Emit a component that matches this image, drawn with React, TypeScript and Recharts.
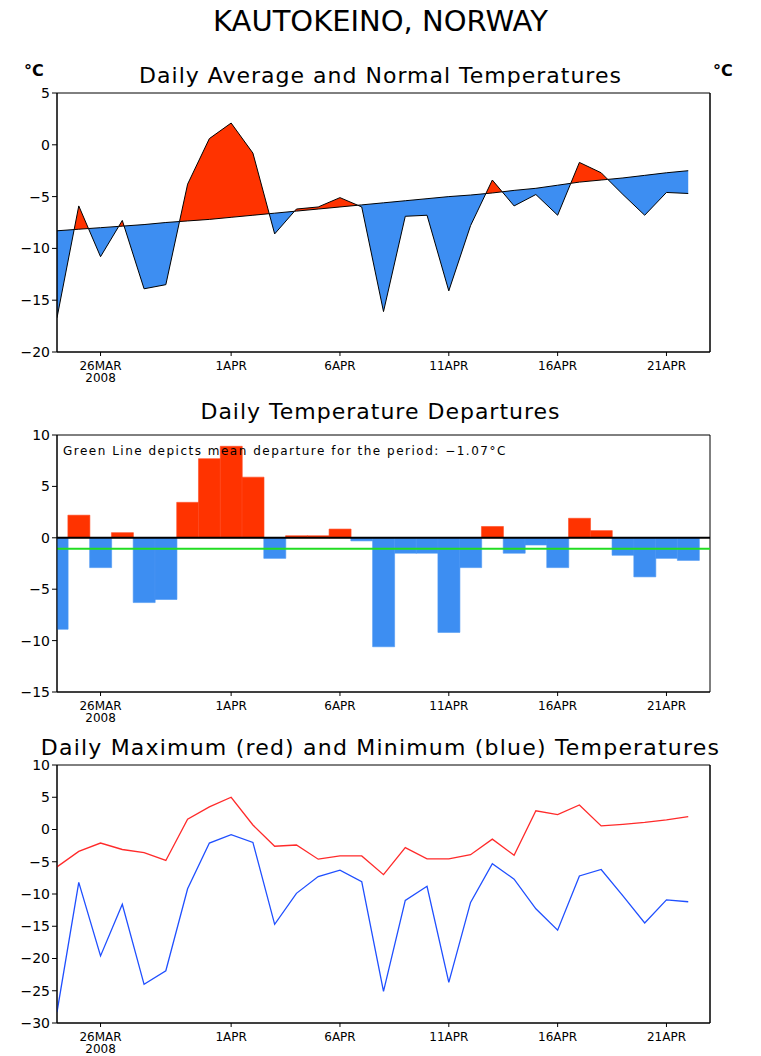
import React from "react";
import { Area, Bar, Cell, ComposedChart, Line, ReferenceArea, ReferenceLine, XAxis, YAxis } from "recharts";

const FONT = "'DejaVu Sans', sans-serif";

// day index 0 = 24MAR 2008
const DAYS = [
  "24MAR", "25MAR", "26MAR", "27MAR", "28MAR", "29MAR", "30MAR", "31MAR",
  "1APR", "2APR", "3APR", "4APR", "5APR", "6APR", "7APR", "8APR", "9APR", "10APR",
  "11APR", "12APR", "13APR", "14APR", "15APR", "16APR", "17APR", "18APR", "19APR",
  "20APR", "21APR", "22APR",
];
const TICK_DAYS = [2, 8, 13, 18, 23, 28];
const TICK_LABELS = ["26MAR", "1APR", "6APR", "11APR", "16APR", "21APR"];
const YEAR = "2008";

const AVG_TEMP = [
  -16.7, -5.9, -10.8, -7.3, -13.9, -13.5, -3.8, 0.6, 2.1, -0.8, -8.6, -6.2, -6.0, -5.1, -6.0,
  -16.1, -6.9, -6.8, -14.1, -7.8, -3.4, -5.9, -4.8, -6.8, -1.7, -2.7, -4.8, -6.8, -4.6, -4.7,
];
const NORMAL_TEMP = [
  -8.3, -8.15, -8.0, -7.85, -7.7, -7.5, -7.35, -7.2, -7.0, -6.8, -6.6, -6.4, -6.2, -6.0, -5.8,
  -5.6, -5.4, -5.2, -5.0, -4.85, -4.65, -4.4, -4.2, -3.9, -3.6, -3.4, -3.2, -2.95, -2.7, -2.5,
];
const DEPARTURE = [
  -8.9, 2.2, -2.9, 0.5, -6.3, -6.0, 3.45, 7.7, 8.9, 5.9, -2.0, 0.2, 0.2, 0.85, -0.3,
  -10.6, -1.5, -1.5, -9.2, -2.9, 1.1, -1.5, -0.7, -2.9, 1.9, 0.7, -1.7, -3.8, -2.0, -2.2,
];
const MEAN_DEPARTURE = -1.07;
const MAX_TEMP = [
  -5.8, -3.4, -2.1, -3.1, -3.6, -4.8, 1.6, 3.5, 5.0, 0.7, -2.6, -2.4, -4.6, -4.1, -4.1,
  -7.0, -2.8, -4.55, -4.55, -3.9, -1.5, -4.0, 2.9, 2.3, 3.8, 0.55, 0.8, 1.1, 1.5, 2.0,
];
const MIN_TEMP = [
  -28.3, -8.2, -19.6, -11.6, -24.0, -21.9, -9.2, -2.1, -0.8, -2.0, -14.7, -9.9, -7.3, -6.3, -8.1,
  -25.1, -11.0, -8.8, -23.7, -11.3, -5.3, -7.7, -12.3, -15.6, -7.2, -6.2, -10.3, -14.5, -10.9, -11.2,
];

const Y_TICKS_AVG = [5, 0, -5, -10, -15, -20];
const Y_TICKS_DEP = [10, 5, 0, -5, -10, -15];
const Y_TICKS_MAXMIN = [10, 5, 0, -5, -10, -15, -20, -25, -30];
const X_DOMAIN = [0, 30];

const RED = "#ff3300";
const BLUE = "#3d8ef2";

// rows for the warm/cold fills; where the average crosses the normal a row is
// added at the crossing so each fill closes exactly on the normal line
function buildAvgRows() {
  const rows: any[] = [];
  for (let i = 0; i < AVG_TEMP.length; i++) {
    const a = AVG_TEMP[i];
    const n = NORMAL_TEMP[i];
    rows.push({ x: i, day: DAYS[i], avg: a, normal: n, warm: [n, Math.max(a, n)], cold: [Math.min(a, n), n] });
    if (i + 1 < AVG_TEMP.length) {
      const d0 = a - n;
      const d1 = AVG_TEMP[i + 1] - NORMAL_TEMP[i + 1];
      if (d0 * d1 < 0) {
        const t = d0 / (d0 - d1);
        const y = n + t * (NORMAL_TEMP[i + 1] - n);
        rows.push({ x: i + t, avg: y, normal: y, warm: [y, y], cold: [y, y] });
      }
    }
  }
  return rows;
}

const avgRows = buildAvgRows();
const depRows = DEPARTURE.map((d, i) => ({ x: i, day: DAYS[i], dep: d }));
const maxMinRows = MAX_TEMP.map((v, i) => ({ x: i, day: DAYS[i], max: v, min: MIN_TEMP[i] }));

const fmt = (v: number) => String(v).replace("-", "\u2212");
const tickStyle = { fontSize: 14, fill: "#000", fontFamily: FONT };
const black = { stroke: "#000" };

function DateTick(props: any) {
  const { x, y, payload } = props;
  const i = TICK_DAYS.indexOf(payload.value);
  return (
    <g>
      <text x={x} y={y + 3} dy="0.71em" textAnchor="middle" fontSize={12} fontFamily={FONT} fill="#000">
        {TICK_LABELS[i]}
      </text>
      {i === 0 && (
        <text x={x} y={y + 15} dy="0.71em" textAnchor="middle" fontSize={12} fontFamily={FONT} fill="#000">
          {YEAR}
        </text>
      )}
    </g>
  );
}

function xAxis() {
  return (
    <XAxis
      dataKey="x"
      type="number"
      domain={X_DOMAIN}
      ticks={TICK_DAYS}
      interval={0}
      allowDataOverflow
      tick={<DateTick />}
      tickSize={4}
      axisLine={black}
      tickLine={black}
      height={30}
    />
  );
}

function yAxes(domain: number[], ticks: number[], rightTicks: boolean) {
  const out = [
    <YAxis
      key="l"
      type="number"
      domain={domain}
      ticks={ticks}
      interval={0}
      allowDataOverflow
      tick={tickStyle}
      tickFormatter={fmt}
      tickSize={5}
      axisLine={black}
      tickLine={black}
      width={49}
    />,
  ];
  if (rightTicks) {
    out.push(
      <YAxis
        key="r"
        yAxisId="right"
        orientation="right"
        type="number"
        domain={domain}
        ticks={ticks}
        interval={0}
        tick={tickStyle}
        tickFormatter={fmt}
        tickSize={5}
        tickLine={black}
        axisLine={black}
        width={43}
      />
    );
  }
  return out;
}

// plot frame drawn on the data domain
function frame(domain: number[]) {
  return (
    <ReferenceArea
      x1={X_DOMAIN[0]}
      x2={X_DOMAIN[1]}
      y1={domain[0]}
      y2={domain[1]}
      fill="none"
      fillOpacity={0}
      stroke="#000"
      strokeWidth={1}
      strokeOpacity={1}
    />
  );
}

const titleStyle: React.CSSProperties = {
  position: "absolute",
  left: 0,
  width: 761,
  textAlign: "center",
  fontFamily: FONT,
  fontSize: 22,
  letterSpacing: 1,
  color: "#000",
  lineHeight: "24px",
};

const unitStyle: React.CSSProperties = {
  position: "absolute",
  fontFamily: FONT,
  fontSize: 16,
  fontWeight: "bold",
  lineHeight: "18px",
};

export default function App() {
  return (
    <div style={{ position: "absolute", top: 0, left: 0, width: 761, height: 1056, overflow: "hidden", background: "#fff" }}>
      <div style={{ ...titleStyle, top: 5, fontSize: 29, letterSpacing: 0, lineHeight: "32px" }}>KAUTOKEINO, NORWAY</div>

      <div style={{ ...titleStyle, top: 64 }}>Daily Average and Normal Temperatures</div>
      <div style={{ ...unitStyle, left: 24, top: 62 }}>°C</div>
      <div style={{ ...unitStyle, left: 713, top: 62 }}>°C</div>
      <div style={{ position: "absolute", top: 60, left: 0 }}>
        <ComposedChart width={761} height={330} data={avgRows} margin={{ top: 33, right: 8, bottom: 8, left: 8 }}>
          {xAxis()}
          {yAxes([-20, 5], Y_TICKS_AVG, true)}
          <Area type="linear" dataKey="warm" fill={RED} fillOpacity={1} stroke="none" isAnimationActive={false} />
          <Area type="linear" dataKey="cold" fill={BLUE} fillOpacity={1} stroke="none" isAnimationActive={false} />
          <Line type="linear" dataKey="normal" stroke="#000" strokeWidth={1} dot={false} isAnimationActive={false} />
          <Line type="linear" dataKey="avg" stroke="#000" strokeWidth={1} dot={false} isAnimationActive={false} />
          {frame([-20, 5])}
        </ComposedChart>
      </div>

      <div style={{ ...titleStyle, top: 400 }}>Daily Temperature Departures</div>
      <div style={{ position: "absolute", top: 400, left: 0 }}>
        <ComposedChart width={761} height={330} data={depRows} barCategoryGap={0} margin={{ top: 35, right: 51, bottom: 8, left: 8 }}>
          {xAxis()}
          {yAxes([-15, 10], Y_TICKS_DEP, false)}
          <Bar dataKey="dep" isAnimationActive={false}>
            {depRows.map((r) => (
              <Cell key={r.x} fill={r.dep >= 0 ? RED : BLUE} stroke={r.dep >= 0 ? "#ff4a22" : "#4c97f3"} strokeWidth={0.6} />
            ))}
          </Bar>
          <ReferenceLine y={0} stroke="#000" strokeWidth={2} />
          <ReferenceLine y={MEAN_DEPARTURE} stroke="#22dd22" strokeWidth={2} />
          {frame([-15, 10])}
        </ComposedChart>
      </div>
      <div style={{ position: "absolute", left: 63, top: 443, fontFamily: FONT, fontSize: 12, letterSpacing: 1.5, lineHeight: "16px" }}>
        Green Line depicts mean departure for the period: −1.07°C
      </div>

      <div style={{ ...titleStyle, top: 736, letterSpacing: 1.2 }}>Daily Maximum (red) and Minimum (blue) Temperatures</div>
      <div style={{ position: "absolute", top: 730, left: 0 }}>
        <ComposedChart width={761} height={333} data={maxMinRows} margin={{ top: 35, right: 8, bottom: 10, left: 8 }}>
          {xAxis()}
          {yAxes([-30, 10], Y_TICKS_MAXMIN, true)}
          <Line type="linear" dataKey="max" stroke="#ff2a2a" strokeWidth={1.3} dot={false} isAnimationActive={false} />
          <Line type="linear" dataKey="min" stroke="#1f4fff" strokeWidth={1.3} dot={false} isAnimationActive={false} />
          {frame([-30, 10])}
        </ComposedChart>
      </div>
    </div>
  );
}
